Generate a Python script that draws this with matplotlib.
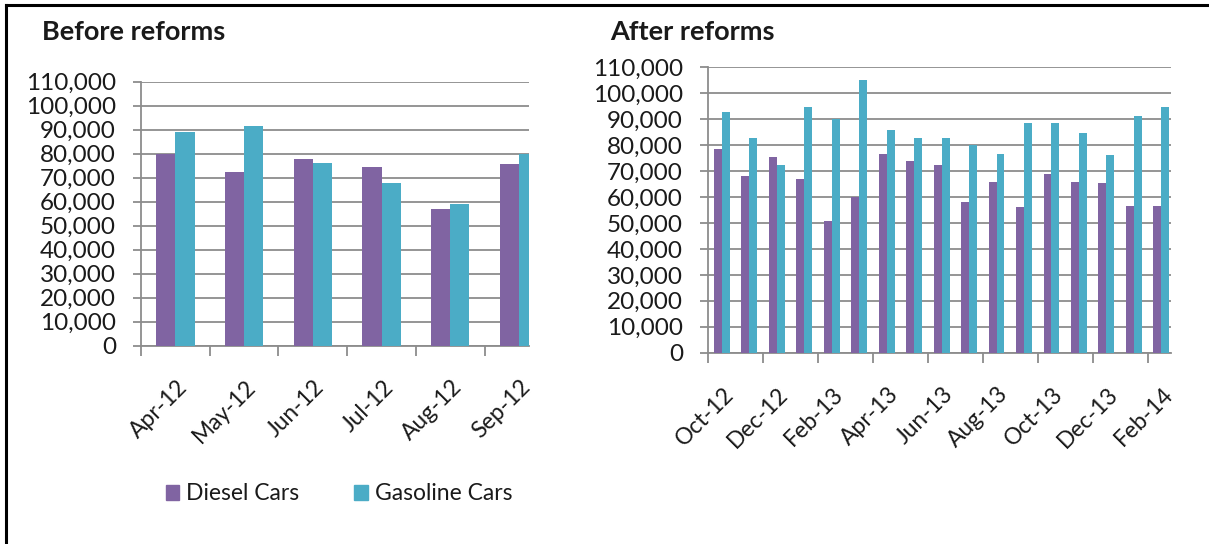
import numpy as np
import matplotlib.pyplot as plt
import matplotlib.transforms as mtransforms
from matplotlib.patches import Patch
from matplotlib.lines import Line2D
from matplotlib.ticker import FuncFormatter

plt.rcParams['font.family'] = ['Lato', 'DejaVu Sans']

# before reforms
before_months = ['Apr-12', 'May-12', 'Jun-12', 'Jul-12', 'Aug-12', 'Sep-12']
before_diesel = [80000, 72300, 77700, 74400, 57000, 75600]
before_gasoline = [88900, 91400, 76000, 67600, 59000, 80000]

# after reforms
after_months = ['Oct-12', 'Nov-12', 'Dec-12', 'Jan-13', 'Feb-13', 'Mar-13',
                'Apr-13', 'May-13', 'Jun-13', 'Jul-13', 'Aug-13', 'Sep-13',
                'Oct-13', 'Nov-13', 'Dec-13', 'Jan-14', 'Feb-14']
after_diesel = [78400, 68000, 75300, 67000, 50600, 59900, 76700, 73800, 72400,
                58000, 65900, 56000, 68900, 65900, 65400, 56600, 56600]
after_gasoline = [92700, 82800, 72400, 94600, 90100, 105000, 85700, 82800, 82800,
                  80200, 76700, 88700, 88700, 84700, 76300, 91100, 94600]

DIESEL = '#8064A2'
GAS = '#4BACC6'
GRID = '#8C8C8C'
TXT = '#1a1a1a'

W, H = 1209, 544
fig = plt.figure(figsize=(W / 100, H / 100), dpi=100)


def px_axes(left, right, top, bottom):
    return fig.add_axes([left / W, 1 - bottom / H, (right - left) / W, (bottom - top) / H])


def draw(ax, months, diesel, gas, bw, label_step, xmax, title, title_x, title_y):
    x = np.arange(len(months))
    ax.bar(x - bw / 2, diesel, bw, color=DIESEL, zorder=3)
    ax.bar(x + bw / 2, gas, bw, color=GAS, zorder=3)
    ax.set_xlim(-0.5, xmax)
    ax.set_ylim(0, 110000)
    ax.set_yticks(np.arange(0, 110001, 10000))
    ax.yaxis.set_major_formatter(FuncFormatter(lambda v, p: f'{int(v):,}'))
    ax.grid(axis='y', color=GRID, linewidth=1.3, zorder=0)
    for s in ['top', 'right']:
        ax.spines[s].set_visible(False)
    for s in ['left', 'bottom']:
        ax.spines[s].set_color(GRID)
        ax.spines[s].set_linewidth(1.3)
    ax.tick_params(axis='y', length=6, color=GRID, width=1.3, labelsize=17.5,
                   labelcolor=TXT, pad=12)
    # tick marks between label groups, labels at category centres
    ax.set_xticks(np.arange(-0.5, len(months) - 1, label_step))
    ax.set_xticklabels([])
    ax.tick_params(axis='x', which='major', length=7, color=GRID, width=1.3)
    ax.set_xticks(x[::label_step], minor=True)
    ax.set_xticklabels(months[::label_step], minor=True, rotation=45,
                       ha='right', va='top', rotation_mode='anchor', fontsize=16.5,
                       color=TXT)
    ax.tick_params(axis='x', which='minor', length=0, pad=22)
    shift = mtransforms.ScaledTranslation(1 / 100, 0, fig.dpi_scale_trans)
    for lbl in ax.get_xticklabels(minor=True):
        lbl.set_transform(lbl.get_transform() + shift)
    fig.text(title_x / W, 1 - title_y / H, title, fontsize=19.5, fontweight='bold',
             va='center', ha='left', color=TXT)


ax1 = px_axes(141, 528.6, 81.5, 345.7)
draw(ax1, before_months, before_diesel, before_gasoline, 0.28, 1, 5.14,
     'Before reforms', 42, 32)

ax2 = px_axes(708, 1171, 67.3, 352.7)
draw(ax2, after_months, after_diesel, after_gasoline, 0.29, 2, 16.35,
     'After reforms', 610, 32)

handles = [Patch(color=DIESEL, label='Diesel Cars'), Patch(color=GAS, label='Gasoline Cars')]
fig.legend(handles=handles, loc='center', bbox_to_anchor=(339 / W, 1 - 494 / H),
           ncol=2, frameon=False, fontsize=16.5, handlelength=0.6, handleheight=0.6,
           handletextpad=0.3, columnspacing=2.4, labelcolor=TXT)

# frame around the picture (left and top edges visible)
fig.add_artist(Line2D([6 / W, 1], [1 - 5 / H, 1 - 5 / H], color='black', linewidth=2.2))
fig.add_artist(Line2D([6 / W, 6 / W], [0, 1 - 5 / H], color='black', linewidth=2.2))

fig.savefig('out.png', dpi=100)
